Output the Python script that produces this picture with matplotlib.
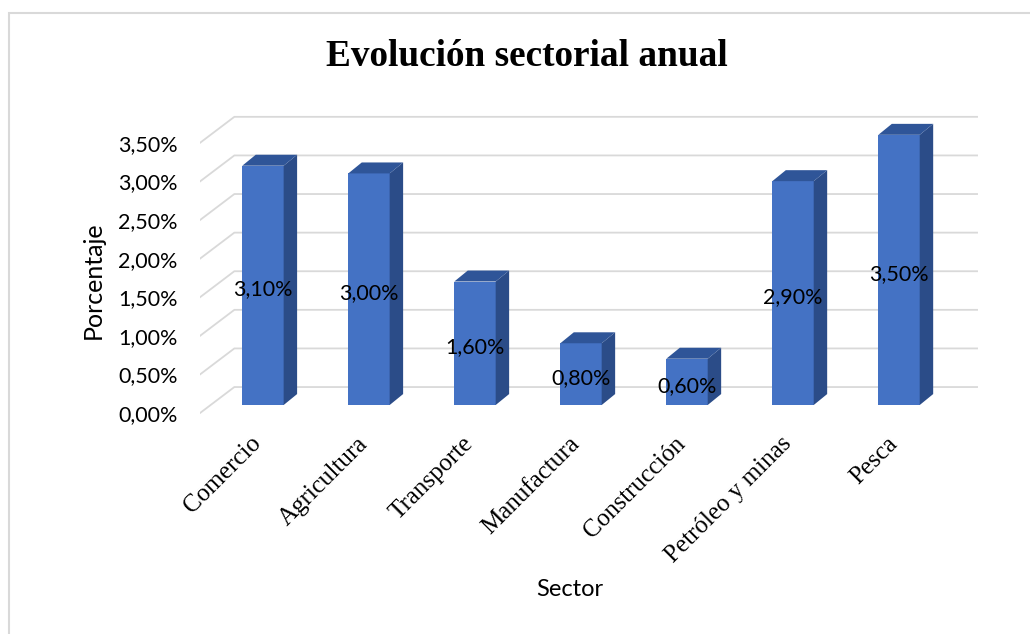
import matplotlib
matplotlib.use('Agg')
import matplotlib.pyplot as plt
import numpy as np
from matplotlib.patches import Polygon, Rectangle

sectors = ['Comercio', 'Agricultura', 'Transporte', 'Manufactura',
           'Construcción', 'Petróleo y minas', 'Pesca']
values = [3.10, 3.00, 1.60, 0.80, 0.60, 2.90, 3.50]   # porcentaje
y_ticks = [0.0, 0.5, 1.0, 1.5, 2.0, 2.5, 3.0, 3.5]

front_c = '#4472C4'
side_c = '#2B4C88'
top_c = '#2F5598'
grid_c = '#D9D9D9'
sans = ['Lato', 'DejaVu Sans']
serif = ['Liberation Serif', 'DejaVu Serif']

# fake 3d geometry, in data units
half_w = 0.195      # half width of bar front
ddx, ddy = 0.127, 0.142    # bar depth
floor_off = 0.104   # front edge of floor below bar base
wall_off = 0.233    # back wall above bar base
x_front, x_wall, x_end = -0.594, -0.27, 6.736

fig = plt.figure(figsize=(10.30, 6.34), dpi=100)
fig.patches.append(Rectangle((9 / 1030, -0.1), 1.2, 1 - 13 / 634 + 0.1,
                             transform=fig.transFigure, fill=False,
                             edgecolor=grid_c, linewidth=1.5))

ax = fig.add_axes([200 / 1030, (634 - 420) / 634, 790 / 1030, 320 / 634])
ax.set_xlim(-0.594, 6.858)
ax.set_ylim(-0.194, 3.951)
for s in ax.spines.values():
    s.set_visible(False)

# grid lines: side wall diagonal + back wall
for v in y_ticks:
    ax.plot([x_front, x_wall, x_end],
            [v - floor_off, v + wall_off, v + wall_off],
            color=grid_c, linewidth=1.3, zorder=1)

for i, v in enumerate(values):
    l, r = i - half_w, i + half_w
    ax.add_patch(Rectangle((l, 0), 2 * half_w, v, facecolor=front_c,
                           edgecolor='none', zorder=3))
    ax.add_patch(Polygon([(r, 0), (r + ddx, ddy), (r + ddx, v + ddy), (r, v)],
                         facecolor=side_c, edgecolor='none', zorder=3))
    ax.add_patch(Polygon([(l, v), (l + ddx, v + ddy), (r + ddx, v + ddy), (r, v)],
                         facecolor=top_c, edgecolor='none', zorder=3))
    ax.text(i, v / 2 - 0.05, ('%.2f%%' % v).replace('.', ','),
            ha='center', va='center', fontsize=15.5, family=sans, zorder=4)

ax.set_yticks(np.array(y_ticks) - floor_off)
ax.set_yticklabels([('%.2f%%' % t).replace('.', ',') for t in y_ticks],
                   fontsize=15.5, family=sans)
ax.set_xticks(np.arange(len(sectors)) - 0.12)
ax.set_xticklabels(sectors, rotation=45, ha='right', rotation_mode='anchor',
                   fontsize=18, family=serif)
ax.tick_params(axis='y', length=0, pad=16)
ax.tick_params(axis='x', length=0, pad=9)

fig.text(527 / 1030, 1 - 57 / 634, 'Evolución sectorial anual',
         ha='center', va='center', fontsize=26.8, fontweight='bold',
         family=serif)
fig.text(93 / 1030, 1 - 280 / 634, 'Porcentaje', rotation=90,
         ha='center', va='center', fontsize=18, family=sans)
fig.text(570 / 1030, 1 - 589 / 634, 'Sector',
         ha='center', va='center', fontsize=17, family=sans)

fig.savefig('out.png', dpi=100)
